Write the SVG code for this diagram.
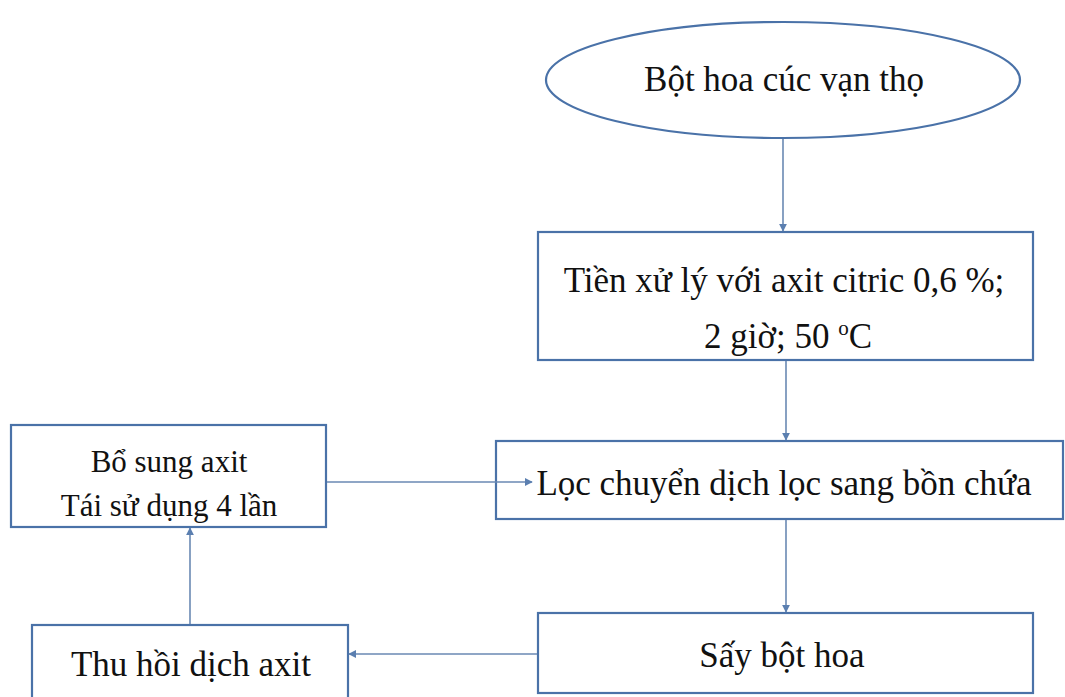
<svg xmlns="http://www.w3.org/2000/svg" width="1065" height="697" viewBox="0 0 1065 697">
  <style>
    .node { fill: #ffffff; stroke: #4a72a8; stroke-width: 2.2; }
    .label { font-family: "Liberation Serif", "Times New Roman", serif; fill: #111111; text-anchor: middle; }
    .big { font-size: 35px; }
    .small { font-size: 31px; }
    .link { fill: none; stroke: #6a89b3; stroke-width: 1.6; }
  </style>
  <defs>
    <marker id="arrow" viewBox="0 0 10 10" refX="9" refY="5" markerWidth="8" markerHeight="8" markerUnits="userSpaceOnUse" orient="auto">
      <path d="M0,0 L10,5 L0,10 z" fill="#5b7fb0"/>
    </marker>
  </defs>
  <rect width="1065" height="697" fill="#ffffff"/>

  <g id="node-bot-hoa">
    <ellipse class="node" cx="783" cy="80" rx="237" ry="58"/>
    <text class="label big" x="784" y="91">Bột hoa cúc vạn thọ</text>
  </g>

  <g id="node-tien-xu-ly">
    <rect class="node" x="538" y="232" width="495" height="128"/>
    <text class="label big" x="784" y="292">Tiền xử lý với axit citric 0,6 %;</text>
    <text class="label big" x="788" y="348">2 giờ; 50 <tspan font-size="21" dy="-13">o</tspan><tspan dy="13">C</tspan></text>
  </g>

  <g id="node-loc">
    <rect class="node" x="496" y="441" width="567" height="78"/>
    <text class="label big" x="784" y="495">Lọc chuyển dịch lọc sang bồn chứa</text>
  </g>

  <g id="node-bo-sung">
    <rect class="node" x="11" y="425" width="315" height="102"/>
    <text class="label small" x="169" y="472">Bổ sung axit</text>
    <text class="label small" x="169" y="516">Tái sử dụng 4 lần</text>
  </g>

  <g id="node-say">
    <rect class="node" x="538" y="613" width="495" height="80"/>
    <text class="label big" x="782" y="667">Sấy bột hoa</text>
  </g>

  <g id="node-thu-hoi">
    <rect class="node" x="32" y="625" width="316" height="80"/>
    <text class="label big" x="191" y="676">Thu hồi dịch axit</text>
  </g>

  <g id="connectors">
    <line class="link" x1="783" y1="139" x2="783" y2="231" marker-end="url(#arrow)"/>
    <line class="link" x1="786" y1="361" x2="786" y2="440" marker-end="url(#arrow)"/>
    <line class="link" x1="327" y1="482" x2="532" y2="482" marker-end="url(#arrow)"/>
    <line class="link" x1="786" y1="520" x2="786" y2="612" marker-end="url(#arrow)"/>
    <line class="link" x1="537" y1="654" x2="349" y2="654" marker-end="url(#arrow)"/>
    <line class="link" x1="190" y1="624" x2="190" y2="528" marker-end="url(#arrow)"/>
  </g>
</svg>
